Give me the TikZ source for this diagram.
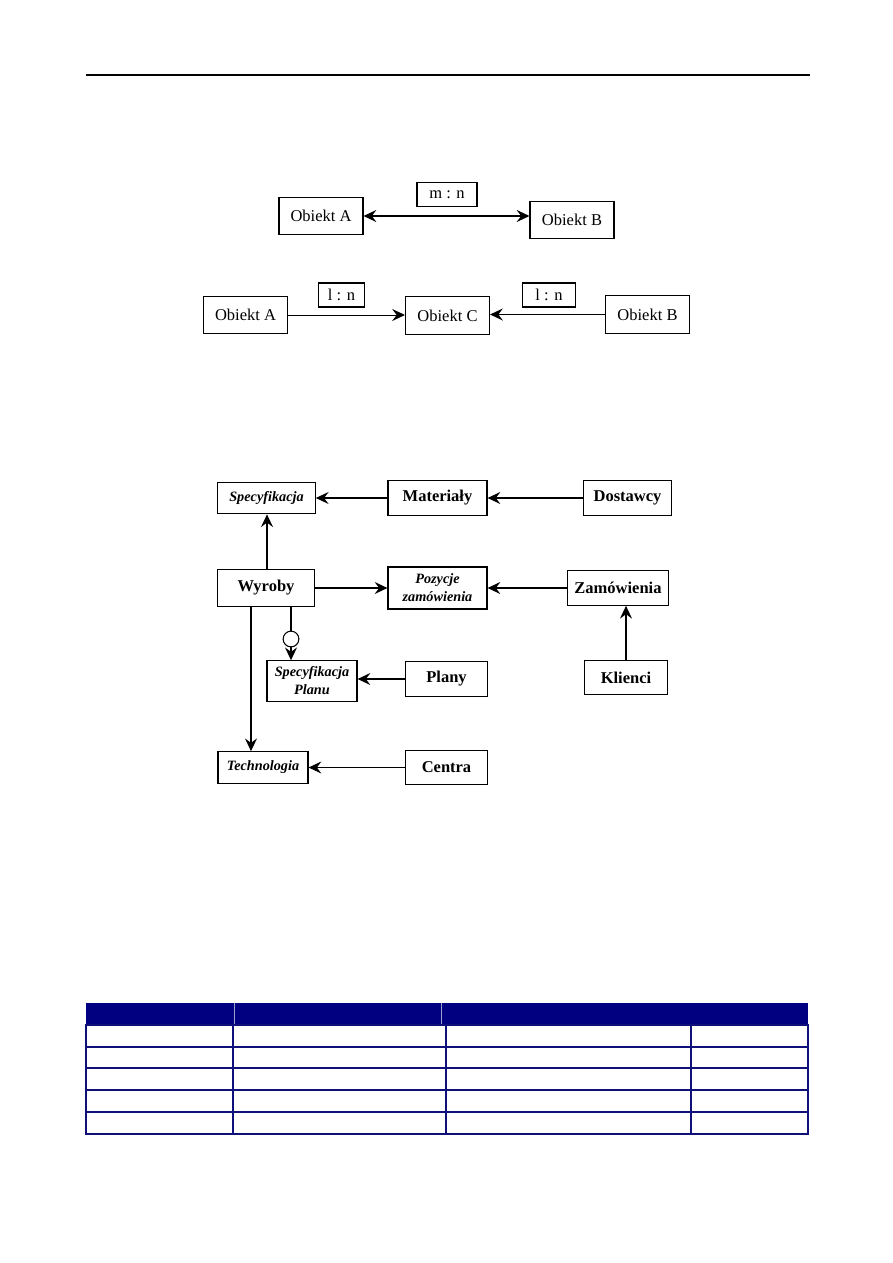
\documentclass[tikz,border=0pt]{standalone}
\usepackage{fontspec}
\setmainfont{Liberation Serif}
\usetikzlibrary{positioning, arrows.meta, calc}
\definecolor{navyhead}{HTML}{000080}
\definecolor{navyline}{HTML}{10107A}
\tikzset{
  obj/.style={draw, line width=0.75pt, font=\fontsize{11}{12}\selectfont, inner sep=1pt,
              minimum width=#1, minimum height=25pt},
  obj/.default=56pt,
  card/.style={draw, line width=0.75pt, font=\fontsize{11}{12}\selectfont, inner sep=1pt,
               minimum height=16pt},
  ent/.style={draw, line width=0.8pt, font=\bfseries\fontsize{11}{12}\selectfont, inner sep=1pt,
              minimum width=#1, minimum height=23pt},
  ent/.default=60pt,
  assoc/.style={draw, line width=0.8pt, font=\bfseries\itshape\fontsize{9.5}{12}\selectfont,
                align=center, inner sep=1pt, minimum width=#1, minimum height=21pt},
  assoc/.default=62pt,
  arr/.style={-{Stealth[length=8.5pt, width=8pt, inset=3pt]}, line width=0.7pt},
  arrw/.style={arr, line width=0.95pt},
  opt/.style={circle, draw, line width=0.7pt, minimum size=10.5pt, inner sep=0pt},
  row/.style={draw=navyline, line width=0.7pt},
  rowb/.style={draw=navyline, line width=1.4pt},
}

\begin{document}
\begin{tikzpicture}[x=0.6667pt, y=-0.6667pt]
    \useasboundingbox (0,0) rectangle (893,1263);
    % page rule
    \coordinate (ruleL) at (86,75);
    \coordinate (ruleR) at (810,75);
    \draw[line width=0.9pt] (ruleL) -- (ruleR);

    % m:n
    \node[obj]  (oA1) at (321,216)   {Obiekt A};
    \node[obj]  (oB1) at (572,220)   {Obiekt B};
    \node[card, minimum width=40pt] (mn) at (447,194.5) {m : n};
    \draw[arr, {Stealth[length=8.5pt, width=8pt, inset=3pt]}-{Stealth[length=8.5pt, width=8pt, inset=3pt]}]
         (oA1.east) -- (oA1.east -| oB1.west);

    % 1:n + 1:n
    \node[obj]  (oA2) at (245.5,315) {Obiekt A};
    \node[obj]  (oC)  at (447.5,315.5) {Obiekt C};
    \node[obj]  (oB2) at (647.5,314.5) {Obiekt B};
    \node[card, minimum width=31pt] (ln1) at (341.5,295) {l : n};
    \node[card, minimum width=35pt] (ln2) at (549,295)   {l : n};
    \draw[arrw, line width=0.6pt] (oA2.east) -- (oA2.east -| oC.west);
    \draw[arrw] (oB2.west) -- (oB2.west -| oC.east);

    % model
    \node[assoc=65pt] (spec)   at (266.5,498) {Specyfikacja};
    \node[ent=66pt]   (mat)    at (437.5,498) {Materiały};
    \node[ent=59pt]   (dost)   at (627.5,498) {Dostawcy};
    \node[ent=65pt, minimum height=25pt] (wyr) at (266,588) {Wyroby};
    \node[assoc=66pt, minimum height=28pt] (poz) at (437.5,588) {Pozycje\\zamówienia};
    \node[ent=67pt]   (zam)    at (618,588)   {Zamówienia};
    \node[assoc=60pt, minimum height=27pt] (splan) at (312,681) {Specyfikacja\\Planu};
    \node[ent=55pt]   (plany)  at (446.5,679) {Plany};
    \node[ent=55pt]   (kli)    at (626,677.5) {Klienci};
    \node[assoc=60pt] (tech)   at (263,767.5) {Technologia};
    \node[ent=55pt]   (centra) at (446.5,767.5) {Centra};
    \node[opt]        (circ)   at (291,639)   {};

    \draw[arr] (mat) -- (spec);
    \draw[arr] (dost) -- (mat);
    \draw[arr] (wyr.north -| 267,0) -- (spec.south -| 267,0);
    \draw[arr] (wyr) -- (poz);
    \draw[arr] (zam) -- (poz);
    \draw[arrw] (kli.north) -- (kli.north |- zam.south);
    \draw[arr] (wyr.south -| 251,0) -- (tech.north -| 251,0);
    \draw[line width=0.7pt] (wyr.south -| circ) -- (circ.north);
    \draw[arr] (circ.south) -- (circ.south |- splan.north);
    \draw[arr] (plany.west |- 0,679) -- (splan.east |- 0,679);
    \draw[arr] (centra) -- (tech);

    % table
    \fill[navyhead] (86,1003) rectangle (808,1025);
    \draw[navyline!40, line width=0.4pt] (234,1003) -- (234,1025) (441,1003) -- (441,1025);
    \draw[row] (86,1025) rectangle (808,1134);
    \draw[rowb] (86,1047) -- (808,1047);
    \foreach \y in {1068,1090,1112}
      \draw[row] (86,\y) -- (808,\y);
    \foreach \x in {233,446}
      \draw[row] (\x,1025) -- (\x,1134);
    \draw[rowb] (691,1025) -- (691,1134);
\end{tikzpicture}
\end{document}
